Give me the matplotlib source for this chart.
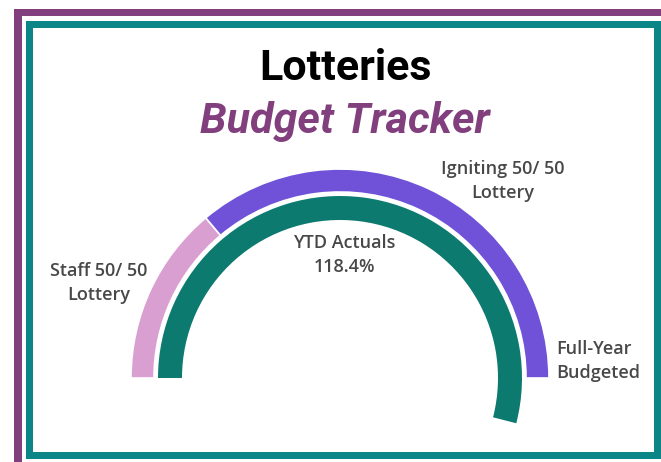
import matplotlib
matplotlib.use("Agg")
import matplotlib.pyplot as plt
from matplotlib.patches import Rectangle, Wedge

# ---- data ----
budget_labels = ["Staff 50/ 50\nLottery", "Igniting 50/ 50\nLottery"]
budget_shares = [27.8, 72.2]          # % of the full-year budget (upper half circle)
budget_colors = ["#d99fd1", "#7052d8"]
ytd_label = "YTD Actuals\n118.4%"
ytd_arc_pct = 108.0                   # sweep of the drawn teal arc, % of half circle
end_label = "Full-Year\nBudgeted"

title = "Lotteries"
subtitle = "Budget Tracker"

W, H = 661, 462
fig = plt.figure(figsize=(W / 100, H / 100), dpi=100)
ax = fig.add_axes([0, 0, 1, 1])
ax.set_xlim(0, W)
ax.set_ylim(0, H)
ax.axis("off")

def band(x0, x1, top, bottom, color):
    # pixel box (y measured from the top) -> rectangle
    ax.add_patch(Rectangle((x0, H - bottom), x1 - x0, bottom - top,
                           facecolor=color, edgecolor="none"))

purple = "#823f7e"
teal = "#0b8585"
band(14, 22, 9, H, purple)
band(14, W, 9, 16, purple)
band(26, 33, 21, 459, teal)
band(26, W, 21, 28, teal)
band(654, W, 21, 459, teal)
band(26, W, 452, 459, teal)

# ---- gauge ----
cx, cy = 340, H - 378
r_out, w_out = 209, 23
r_in, w_in = 182, 24

start = 180.0
for share, col in zip(budget_shares, budget_colors):
    end = start - share / 100 * 180
    ax.add_patch(Wedge((cx, cy), r_out, end, start, width=w_out,
                       facecolor=col, edgecolor="white", linewidth=1.2))
    start = end

ax.add_patch(Wedge((cx, cy), r_in, 180 - ytd_arc_pct / 100 * 180, 180,
                   width=w_in, facecolor="#0d7a70", edgecolor="none"))

lab = dict(fontsize=13, color="#484848", family=["Open Sans", "DejaVu Sans"],
           fontweight="semibold", linespacing=1.45, va="center")
ax.text(99, H - 283, budget_labels[0], ha="center", **lab)
ax.text(503, H - 181, budget_labels[1], ha="center", **lab)
ax.text(344, H - 255, ytd_label, ha="center", **lab)
ax.text(556, H - 361, end_label, ha="left", **lab)

ax.text(345, H - 68, title, ha="center", va="center", fontsize=31,
        fontweight="bold", family=["Roboto", "DejaVu Sans"], color="black")
ax.text(345, H - 122, subtitle, ha="center", va="center", fontsize=31,
        fontweight="bold", fontstyle="italic", family=["Roboto", "DejaVu Sans"],
        color=purple)

fig.savefig("out.png", dpi=100)
